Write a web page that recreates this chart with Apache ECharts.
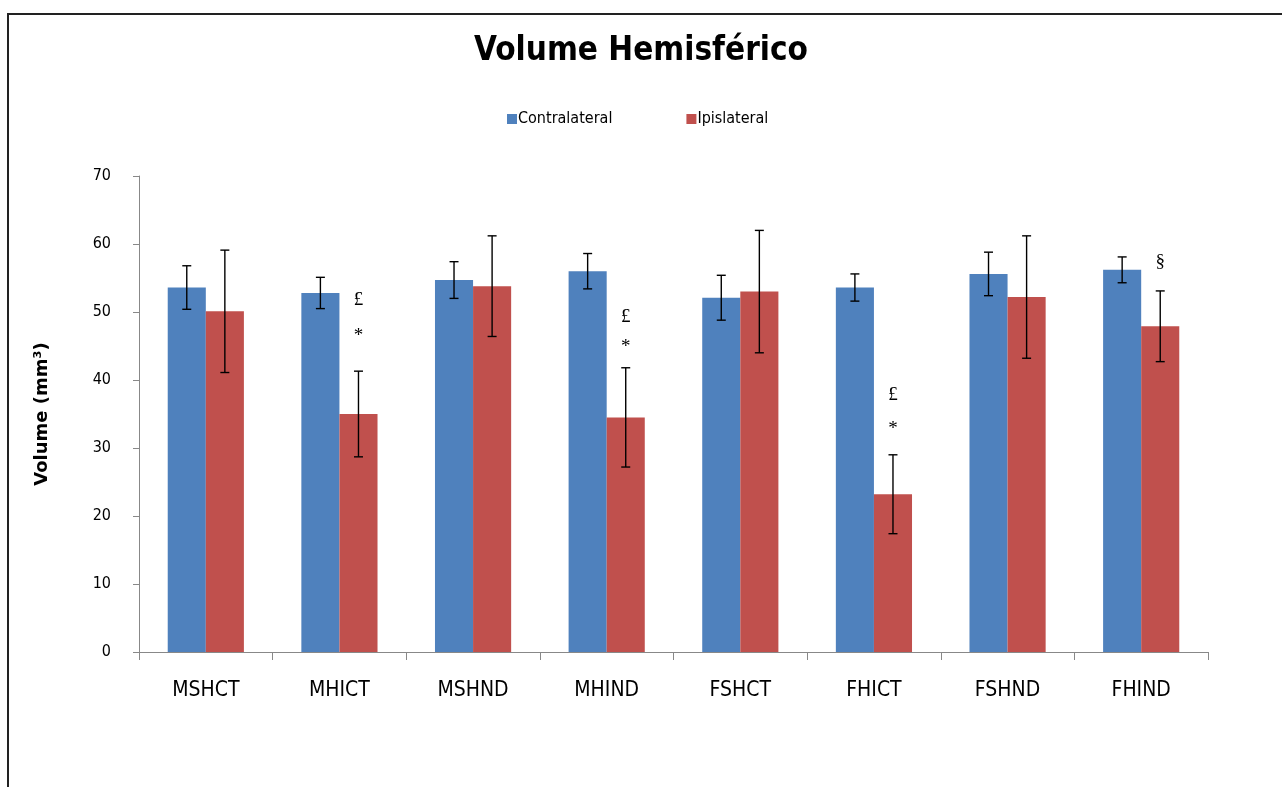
<!DOCTYPE html>
<html><head><meta charset="utf-8">
<script src="https://cdn.jsdelivr.net/npm/echarts@6/dist/echarts.min.js"></script>
<style>html,body{margin:0;padding:0;background:#fff}#c{width:1282px;height:787px}</style>
</head><body><div id="c"></div>
<script>
const categories = ['MSHCT','MHICT','MSHND','MHIND','FSHCT','FHICT','FSHND','FHIND'];
const contralateral = [53.6, 52.8, 54.7, 56.0, 52.1, 53.6, 55.6, 56.2];
const contralateralErr = [3.2, 2.3, 2.7, 2.6, 3.3, 2.0, 3.2, 1.9];
const ipsilateral = [50.1, 35.0, 53.8, 34.5, 53.0, 23.2, 52.2, 47.9];
const ipsilateralErr = [9.0, 6.3, 7.4, 7.3, 9.0, 5.8, 9.0, 5.2];
// significance marks over the ipsilateral bars: [category index, y value, text]
const marks = [
  [1, 51.8, '£'], [1, 46.5, '*'],
  [3, 49.3, '£'], [3, 44.9, '*'],
  [5, 37.8, '£'], [5, 32.8, '*'],
  [7, 57.3, '§']
];
const yTicks = [0, 70, 10];

const COND = "'DejaVu Sans Condensed', 'Liberation Sans Narrow', sans-serif";
const BAR_FRAC = 0.285;
const chart = echarts.init(document.getElementById('c'));

function errData(vals, errs){ return vals.map((v,i)=>[i, v-errs[i], v+errs[i]]); }
function errRender(side){
  return function(params, api){
    const i = api.value(0);
    const bw = api.size([1,0])[0]*BAR_FRAC;
    const lo = api.coord([i, api.value(1)]);
    const hi = api.coord([i, api.value(2)]);
    const x = lo[0] + side*bw/2;
    const cap = 4.5;
    const st = {stroke:'#000', lineWidth:1.4};
    return {type:'group', children:[
      {type:'line', shape:{x1:x,y1:lo[1],x2:x,y2:hi[1]}, style:st},
      {type:'line', shape:{x1:x-cap,y1:lo[1],x2:x+cap,y2:lo[1]}, style:st},
      {type:'line', shape:{x1:x-cap,y1:hi[1],x2:x+cap,y2:hi[1]}, style:st}
    ]};
  };
}

chart.setOption({
  animation:false,
  title:{text:'Volume Hemisférico', left:'center', top:30,
    textStyle:{fontFamily:COND, fontWeight:'bold', fontSize:33, color:'#000'}},
  legend:{top:106, left:502, itemGap:74, itemWidth:10, itemHeight:10,
    textStyle:{fontFamily:COND, fontSize:16, color:'#000', padding:[0,0,0,-4]},
    data:[{name:'Contralateral', icon:'rect'},{name:'Ipislateral', icon:'rect'}]},
  grid:{left:139, right:74, top:176, bottom:135},
  xAxis:{type:'category', data:categories,
    axisLine:{lineStyle:{color:'#888'}},
    axisTick:{show:true, length:8, lineStyle:{color:'#888'}},
    axisLabel:{fontFamily:COND, fontSize:21, color:'#000', margin:28}},
  yAxis:{type:'value', min:yTicks[0], max:yTicks[1], interval:yTicks[2],
    name:'Volume (mm³)', nameLocation:'middle', nameGap:88, nameRotate:90,
    nameTextStyle:{fontFamily:'DejaVu Sans', fontWeight:'bold', fontSize:18, color:'#000'},
    axisLine:{show:true, lineStyle:{color:'#888'}},
    axisTick:{show:true, length:6, lineStyle:{color:'#888'}},
    splitLine:{show:false},
    axisLabel:{fontFamily:COND, fontSize:16, color:'#000', margin:28}},
  series:[
    {name:'Contralateral', type:'bar', data:contralateral, barWidth:(BAR_FRAC*100)+'%', barGap:'0%',
      itemStyle:{color:'#4F81BD'}},
    {name:'Ipislateral', type:'bar', data:ipsilateral, barWidth:(BAR_FRAC*100)+'%', barGap:'0%',
      itemStyle:{color:'#C0504D'}},
    {type:'custom', data:errData(contralateral, contralateralErr), renderItem:errRender(-1), z:10, silent:true},
    {type:'custom', data:errData(ipsilateral, ipsilateralErr), renderItem:errRender(1), z:10, silent:true},
    {type:'custom', data:marks, z:10, silent:true,
      renderItem:function(params, api){
        const i = api.value(0);
        const bw = api.size([1,0])[0]*BAR_FRAC;
        const p = api.coord([i, api.value(1)]);
        return {type:'text', x:p[0]+bw/2, y:p[1],
          style:{text:marks[params.dataIndex][2], fill:'#000', fontSize:19,
            fontFamily:'Liberation Serif', align:'center', verticalAlign:'middle'}};
      }}
  ],
  graphic:[{type:'polyline', shape:{points:[[8,800],[8,14],[1290,14]]},
    style:{stroke:'#222', lineWidth:2, fill:null}, silent:true}]
});
</script></body></html>
